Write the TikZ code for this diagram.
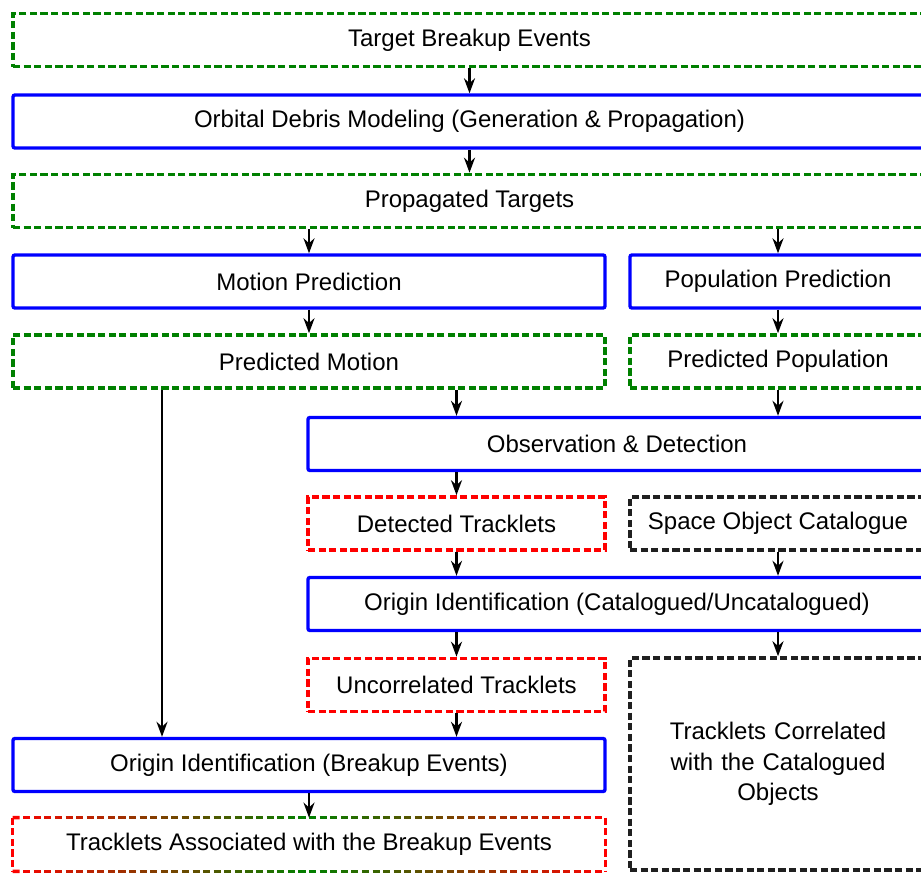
\documentclass[tikz,border=0pt]{standalone}
\usepackage{fontspec}
\setmainfont{Liberation Sans}
\usetikzlibrary{arrows.meta,calc}

\definecolor{boxblue}{RGB}{0,0,255}
\definecolor{boxgreen}{RGB}{0,128,0}
\definecolor{boxred}{RGB}{255,0,0}
\definecolor{boxblack}{RGB}{32,32,32}

\begin{document}
\begin{tikzpicture}[
            x = 0.5pt, y = -0.5pt, % one unit is one pixel of the sketch
            > = {Stealth[length=7.5pt,width=5.5pt]}, % arrow head style
            every node/.style = {font=\fontsize{12}{15.25}\selectfont, inner sep=0pt, minimum height=26.5pt},
            process/.style = {draw=boxblue, line width=1.7pt, rounded corners=1pt},
            dashbox/.style = {dash pattern=on 3.6pt off 1.7pt, line width=1.8pt},
            databox/.style = {dashbox, draw=boxgreen},
            trackbox/.style = {dashbox, draw=boxred},
            catbox/.style = {dashbox, draw=boxblack},
            flow/.style = {->, line width=1.2pt, black}
        ]
\useasboundingbox (0,0) rectangle (921,873);
\clip (0,0) rectangle (921,873);

\node[databox, minimum width=456.5pt] (TBE) at (469.5,40) {Target Breakup Events};
\node[process, minimum width=456.5pt] (ODM) at (469.5,121.5) {Orbital Debris Modeling (Generation \& Propagation)};
\node[databox, minimum width=456.5pt] (PT) at (469.5,201) {Propagated Targets};
\node[process, minimum width=296pt] (MP) at (309,281.5) {Motion Prediction};
\node[process, minimum width=148pt] (PP) at (778,281.5) {Population Prediction};
\node[databox, minimum width=296pt] (PM) at (309,361.5) {Predicted Motion};
\node[databox, minimum width=148pt] (PPop) at (778,361.5) {Predicted Population};
\node[process, minimum width=309pt] (OD) at (617,444) {Observation \& Detection};
\node[trackbox, minimum width=148.5pt] (DT) at (456.5,523.5) {Detected Tracklets};
\node[catbox, minimum width=148pt] (SOC) at (778,523.5) {Space Object Catalogue};
\node[process, minimum width=309pt] (OIC) at (617,604) {Origin Identification (Catalogued/Uncatalogued)};
\node[trackbox, minimum width=148.5pt] (UT) at (456.5,685) {Uncorrelated Tracklets};
\node[catbox, minimum width=148pt, minimum height=106pt, text width=140pt, align=center] (TCC) at (778,764)
    {Tracklets Correlated\\with the Catalogued\\Objects};
\node[process, minimum width=296pt] (OIB) at (309,765) {Origin Identification (Breakup Events)};
\node[minimum width=296pt] (TAB) at (309,844.5) {Tracklets Associated with the Breakup Events};

% border of the last box, red at the sides and green in the middle
\foreach \i in {0,...,55} {
    \pgfmathsetmacro\ta{\i/56}
    \pgfmathsetmacro\tb{(\i+0.67)/56}
    \pgfmathtruncatemacro\pct{abs(200*(\i+0.33)/56-100)}
    \draw[line width=1.8pt, red!\pct!boxgreen] ($(TAB.north west)!\ta!(TAB.north east)$) -- ($(TAB.north west)!\tb!(TAB.north east)$);
    \draw[line width=1.8pt, red!\pct!boxgreen] ($(TAB.south west)!\ta!(TAB.south east)$) -- ($(TAB.south west)!\tb!(TAB.south east)$);
}
\draw[dashbox, boxred] (TAB.north west) -- (TAB.south west);
\draw[dashbox, boxred] (TAB.north east) -- (TAB.south east);

\path[flow] (TBE) edge (ODM);
\path[flow] (ODM) edge (PT);
\path[flow] (PT.south -| MP) edge (MP);
\path[flow] (PT.south -| PP) edge (PP);
\path[flow] (MP) edge (PM);
\path[flow] (PP) edge (PPop);
\path[flow] (DT |- PM.south) edge (DT |- OD.north);
\path[flow] (PPop) edge (PPop |- OD.north);
\path[flow] ([xshift=-73.5pt]PM.south) edge ([xshift=-73.5pt]OIB.north);
\path[flow] (DT |- OD.south) edge (DT);
\path[flow] (DT) edge (DT |- OIC.north);
\path[flow] (SOC) edge (SOC |- OIC.north);
\path[flow] (UT |- OIC.south) edge (UT);
\path[flow] (TCC |- OIC.south) edge (TCC);
\path[flow] (UT) edge (UT |- OIB.north);
\path[flow] (OIB) edge (TAB);

\end{tikzpicture}
\end{document}
